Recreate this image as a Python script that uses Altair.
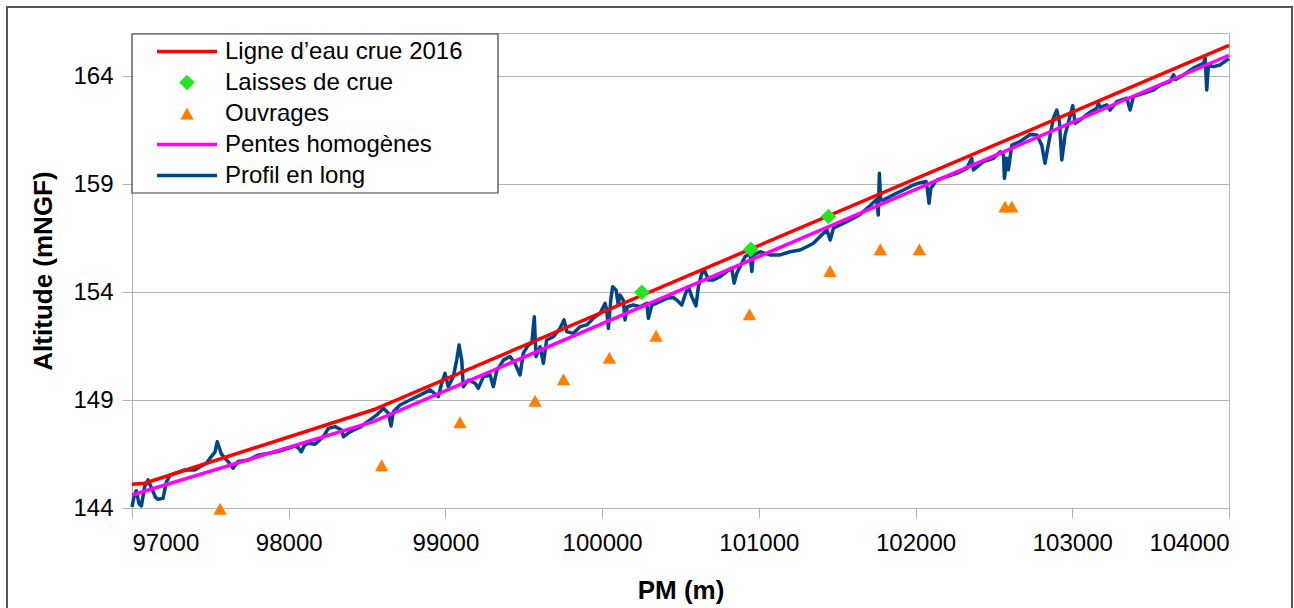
import altair as alt
import pandas as pd

# Series names, in legend order, with their colours
SERIES = [
    "Ligne d\u2019eau crue 2016",
    "Laisses de crue",
    "Ouvrages",
    "Pentes homogènes",
    "Profil en long",
]
SERIES_COLORS = ["#ff0000", "#22e622", "#ff8000", "#ff00ff", "#004586"]

# Symbol outlines (unit square -1..1, scaled by sqrt(size)/2):
# a thin bar stands for a line, plus a diamond and a triangle
BAR = "M-1,-0.055H1V0.055H-1Z"
DIAMOND = "M0,-0.26L0.26,0L0,0.26L-0.26,0Z"
TRIANGLE = "M0,-0.2L0.225,0.2L-0.225,0.2Z"
SERIES_SHAPES = [BAR, DIAMOND, TRIANGLE, BAR, BAR]

# Longitudinal profile of the bed (PM in m, altitude in mNGF)
PM_PROFIL = [
    97000, 97015, 97027, 97045, 97060, 97081, 97102, 97126, 97150, 97166,
    97198, 97219, 97241, 97272, 97336, 97400, 97432, 97474, 97506, 97530,
    97544, 97556, 97570, 97613, 97645, 97676, 97740, 97804, 97868, 97932,
    97996, 98038, 98060, 98080, 98100, 98123, 98168, 98221, 98253, 98295,
    98338, 98349, 98391, 98455, 98519, 98562, 98604, 98636, 98653, 98668,
    98710, 98774, 98838, 98902, 98955, 98976, 98997, 99018, 99050, 99072,
    99087, 99104, 99114, 99146, 99189, 99210, 99242, 99285, 99306, 99327,
    99370, 99412, 99444, 99476, 99497, 99529, 99551, 99567, 99578, 99604,
    99625, 99646, 99689, 99731, 99757, 99774, 99816, 99859, 99902, 99944,
    99987, 100019, 100029, 100040, 100055, 100067, 100089, 100103, 100114, 100135,
    100146, 100161, 100199, 100242, 100285, 100295, 100317, 100369, 100412, 100454,
    100476, 100508, 100529, 100550, 100572, 100599, 100614, 100636, 100657, 100678,
    100710, 100752, 100795, 100827, 100842, 100859, 100880, 100912, 100944, 100955,
    100965, 101008, 101071, 101135, 101199, 101263, 101306, 101348, 101391, 101434,
    101455, 101476, 101518, 101561, 101603, 101646, 101709, 101752, 101762, 101769,
    101777, 101795, 101858, 101922, 101986, 102029, 102067, 102076, 102086, 102097,
    102135, 102199, 102263, 102327, 102358, 102369, 102433, 102497, 102540, 102561,
    102567, 102582, 102592, 102614, 102667, 102731, 102774, 102805, 102826, 102847,
    102879, 102901, 102918, 102933, 102954, 102982, 103003, 103018, 103050, 103103,
    103156, 103167, 103180, 103220, 103241, 103284, 103348, 103369, 103390, 103454,
    103518, 103561, 103624, 103646, 103660, 103709, 103773, 103837, 103848, 103858,
    103869, 103901, 103943, 103986, 104000,
]
ALT_PROFIL = [
    144.05, 144.60, 144.80, 144.20, 144.10, 145.00, 145.30, 144.90, 144.50, 144.40,
    144.45, 145.20, 145.50, 145.60, 145.76, 145.76, 145.90, 146.07, 146.38, 146.60,
    147.07, 146.80, 146.50, 146.15, 145.84, 146.15, 146.22, 146.45, 146.53, 146.61,
    146.76, 146.87, 146.80, 146.60, 146.90, 147.00, 146.95, 147.30, 147.69, 147.77,
    147.61, 147.30, 147.53, 147.74, 148.08, 148.31, 148.62, 148.39, 147.80, 148.46,
    148.77, 149.00, 149.23, 149.47, 149.16, 149.78, 150.24, 149.62, 150.08, 150.85,
    151.55, 150.85, 149.62, 149.93, 149.78, 149.55, 150.08, 150.16, 149.62, 150.35,
    150.85, 151.01, 150.70, 150.16, 151.17, 151.55, 151.63, 152.86, 151.01, 151.47,
    150.70, 151.78, 151.93, 152.32, 152.71, 152.17, 152.09, 152.40, 152.48, 152.79,
    153.02, 153.48, 153.17, 152.32, 153.63, 154.25, 154.10, 153.40, 153.87, 153.63,
    152.71, 153.32, 153.40, 153.32, 153.48, 152.79, 153.40, 153.56, 153.71, 153.75,
    153.63, 153.40, 153.87, 154.25, 153.79, 153.36, 154.25, 154.87, 154.95, 154.56,
    154.56, 154.71, 154.95, 155.10, 154.41, 154.87, 155.18, 155.64, 155.80, 154.95,
    155.72, 155.87, 155.72, 155.72, 155.87, 155.95, 156.10, 156.26, 156.57, 156.88,
    156.41, 156.96, 157.11, 157.26, 157.42, 157.60, 158.00, 158.30, 157.57, 159.50,
    158.27, 158.27, 158.50, 158.73, 158.96, 159.07, 159.12, 158.73, 158.11, 158.80,
    159.19, 159.35, 159.50, 159.73, 160.20, 159.66, 160.04, 160.20, 160.50, 160.35,
    159.27, 160.20, 159.66, 160.81, 160.97, 161.30, 161.28, 160.81, 159.97, 160.81,
    162.05, 162.43, 161.89, 160.12, 161.28, 162.05, 162.63, 161.82, 161.97, 162.28,
    162.51, 162.74, 162.55, 162.67, 162.43, 162.82, 162.98, 162.43, 163.05, 163.21,
    163.36, 163.59, 163.75, 164.06, 163.85, 164.06, 164.37, 164.60, 164.83, 163.36,
    164.52, 164.44, 164.52, 164.75, 164.80,
]

# 2016 flood water line
PM_LIGNE = [97000, 97080, 98540, 104000]
ALT_LIGNE = [145.10, 145.15, 148.55, 165.43]

# Homogeneous slopes
PM_PENTES = [97000, 98540, 104000]
ALT_PENTES = [144.60, 148.00, 164.97]

# Flood marks
PM_LAISSES = [100253, 100949, 101444]
ALT_LAISSES = [153.99, 155.98, 157.50]

# Structures
PM_OUVRAGES = [97562, 98593, 99093, 99572, 99753, 100046, 100344, 100940,
               101454, 101775, 102024, 102571, 102614]
ALT_OUVRAGES = [143.97, 145.98, 147.97, 148.97, 149.96, 150.96, 151.98, 152.97,
                154.98, 155.98, 155.98, 157.96, 157.96]

FONT = "Liberation Sans"
GRID = "#b3b3b3"
LINE_W = 3.5

profil = pd.DataFrame({"pm": PM_PROFIL, "alt": ALT_PROFIL})
ligne = pd.DataFrame({"pm": PM_LIGNE, "alt": ALT_LIGNE})
pentes = pd.DataFrame({"pm": PM_PENTES, "alt": ALT_PENTES})
points = pd.concat([
    pd.DataFrame({"pm": PM_LAISSES, "alt": ALT_LAISSES, "serie": SERIES[1]}),
    pd.DataFrame({"pm": PM_OUVRAGES, "alt": ALT_OUVRAGES, "serie": SERIES[2]}),
], ignore_index=True)

x_enc = alt.X(
    "pm:Q",
    scale=alt.Scale(domain=[97000, 104000], nice=False, zero=False),
    axis=alt.Axis(
        title="PM (m)", values=list(range(97000, 104001, 1000)), format="d",
        grid=False, domain=False, tickColor=GRID, tickSize=10, tickWidth=1,
        labelFont=FONT, labelFontSize=24, labelColor="black", labelPadding=13,
        titleFont=FONT, titleFontSize=26, titleFontWeight="bold",
        titleColor="black", titlePadding=22,
    ),
)
y_enc = alt.Y(
    "alt:Q",
    scale=alt.Scale(domain=[144, 166], nice=False, zero=False),
    axis=alt.Axis(
        title="Altitude (mNGF)", values=[144, 149, 154, 159, 164],
        grid=True, gridColor=GRID, gridWidth=1, domain=False,
        tickColor=GRID, tickSize=10, tickWidth=1,
        labelFont=FONT, labelFontSize=24, labelColor="black", labelPadding=9,
        titleFont=FONT, titleFontSize=26, titleFontWeight="bold",
        titleColor="black", titlePadding=16,
    ),
)

legend = alt.Legend(
    title=None, orient="none", legendX=0, legendY=1, direction="vertical",
    symbolSize=3600, symbolStrokeWidth=0, symbolOpacity=1,
    symbolOffset=23, labelOffset=8, clipHeight=31, rowPadding=0, padding=2,
    labelFont=FONT, labelFontSize=24, labelColor="black", labelLimit=0,
)

# Legend box: white panel with a dark outline, drawn under the data
legend_box = alt.Chart(pd.DataFrame({"k": [0]})).mark_rect(
    fill="white", stroke="#3c3c3c", strokeWidth=1.2
).encode(
    x=alt.value(0), x2=alt.value(366),
    y=alt.value(1), y2=alt.value(160),
)

profil_line = alt.Chart(profil).mark_line(
    color="#004586", strokeWidth=LINE_W, strokeJoin="round"
).encode(x=x_enc, y=y_enc)

pentes_line = alt.Chart(pentes).mark_line(
    color="#ff00ff", strokeWidth=LINE_W
).encode(x=x_enc, y=y_enc)

ligne_line = alt.Chart(ligne).mark_line(
    color="#ff0000", strokeWidth=LINE_W
).encode(x=x_enc, y=y_enc)

markers = alt.Chart(points).mark_point(
    filled=True, size=3600, opacity=1, strokeWidth=0
).encode(
    x=x_enc,
    y=y_enc,
    color=alt.Color("serie:N",
                    scale=alt.Scale(domain=SERIES, range=SERIES_COLORS),
                    legend=legend),
    shape=alt.Shape("serie:N",
                    scale=alt.Scale(domain=SERIES, range=SERIES_SHAPES),
                    legend=legend),
)

# Outer frame around the whole figure
frame = alt.Chart(pd.DataFrame({"k": [0]})).mark_rect(
    fillOpacity=0, stroke="#555555", strokeWidth=2
).encode(
    x=alt.value(-125), x2=alt.value(1160),
    y=alt.value(-26), y2=alt.value(640),
)

chart = alt.layer(
    frame, legend_box, profil_line, pentes_line, ligne_line, markers
).properties(
    width=1097, height=475,
    padding={"left": 132, "top": 33, "right": 65, "bottom": 100},
    autosize=alt.AutoSizeParams(type="none"),
    background="white",
).configure_view(
    stroke=GRID, strokeWidth=1
)

chart.save("out.html", embed_options={"renderer": "svg", "actions": False})
